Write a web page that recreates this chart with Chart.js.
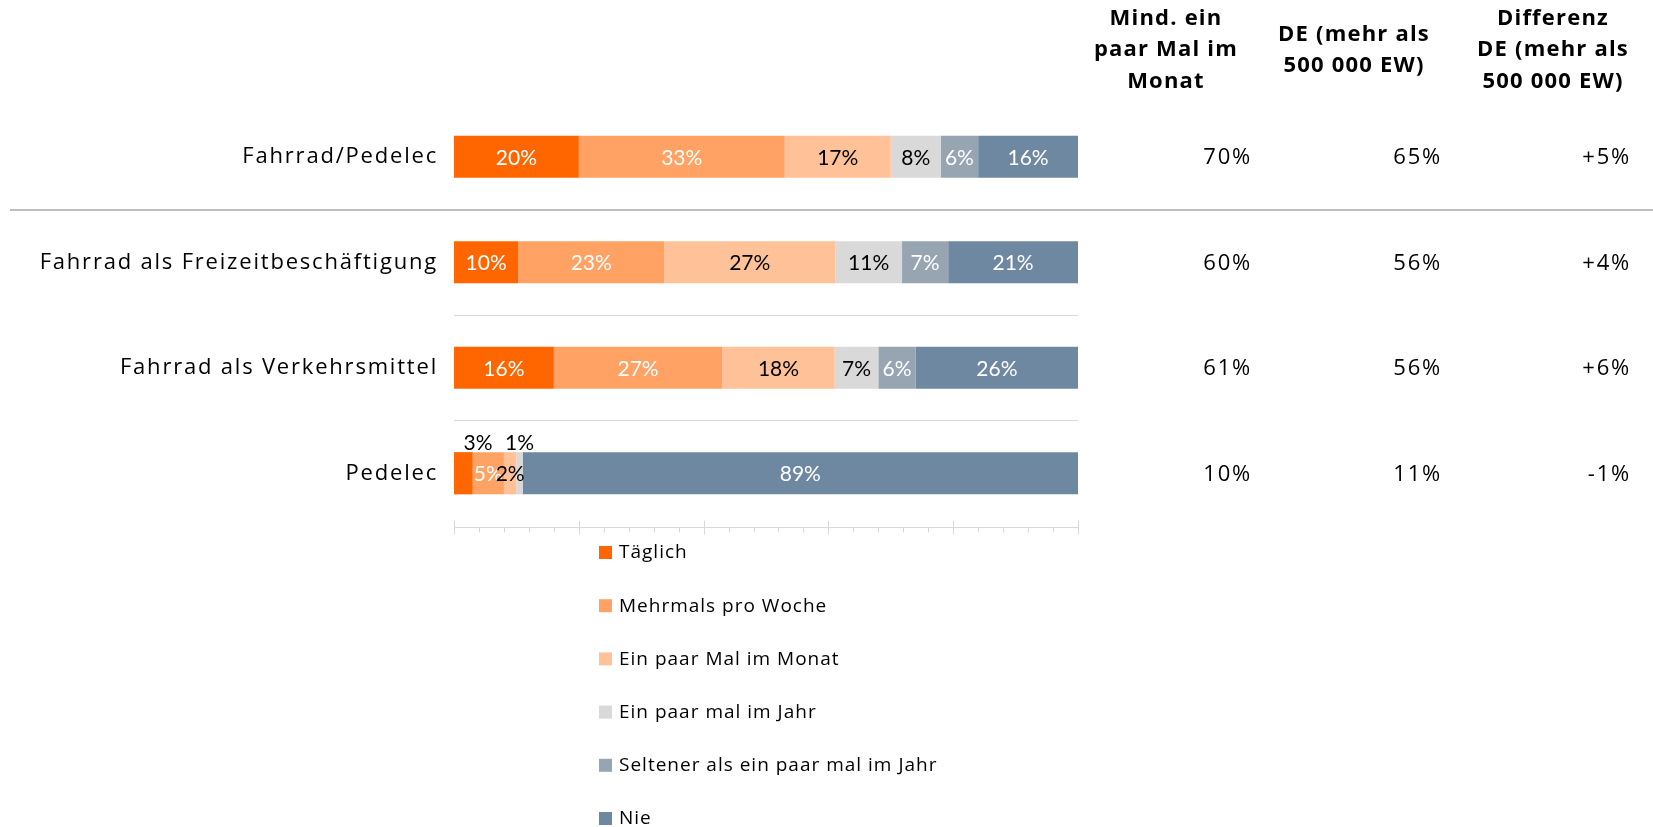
<!DOCTYPE html>
<html>
<head>
<meta charset="utf-8">
<script src="https://cdn.jsdelivr.net/npm/chart.js@4.4.1/dist/chart.umd.min.js"></script>
<style>
    body { margin: 0; background: #ffffff; }
    canvas { display: block; }
</style>
</head>
<body>
<canvas id="grafico-fahrrad" width="1653" height="827"></canvas>
<script>
// Kategorien und Werte (in %)
const kategorien = ['Fahrrad/Pedelec', 'Fahrrad als Freizeitbeschäftigung', 'Fahrrad als Verkehrsmittel', 'Pedelec'];
const serienNamen = ['Täglich', 'Mehrmals pro Woche', 'Ein paar Mal im Monat', 'Ein paar mal im Jahr', 'Seltener als ein paar mal im Jahr', 'Nie'];
const taeglich = [20, 10.3, 16, 3];
const mehrmalsWoche = [33, 23.4, 27, 5];
const paarMalMonat = [17, 27.4, 18, 2];
const paarMalJahr = [8, 10.7, 7, 1];
const seltener = [6, 7.4, 6, 0];
const nie = [16, 20.8, 26, 89];

// Spalten rechts
const kopfMindMonat = ['Mind. ein', 'paar Mal im', 'Monat'];
const kopfDE = ['DE (mehr als', '500 000 EW)'];
const kopfDifferenz = ['Differenz', 'DE (mehr als', '500 000 EW)'];
const mindMonat = ['70%', '60%', '61%', '10%'];
const deWerte = ['65%', '56%', '56%', '11%'];
const differenz = ['+5%', '+4%', '+6%', '-1%'];

const farben = ['#ff6600', '#ffa264', '#ffc198', '#d9d9d9', '#97a5b3', '#6e88a1'];
const labelFarben = ['#ffffff', '#ffffff', '#000000', '#000000', '#ffffff', '#ffffff'];
const werteListe = [taeglich, mehrmalsWoche, paarMalMonat, paarMalJahr, seltener, nie];

// bei Pedelec stehen zwei Labels über dem Balken
const labelsOberhalb = { 3: [0, 3] };

const schrift = "'Open Sans', sans-serif";
Chart.defaults.font.family = schrift;
Chart.defaults.color = '#000000';

const datensaetze = [];
for (let i = 0; i < serienNamen.length; i++) {
    datensaetze.push({
        label: serienNamen[i],
        data: werteListe[i],
        backgroundColor: farben[i],
        borderWidth: 0,
        barPercentage: 0.4,
        categoryPercentage: 1
    });
}

const abstand = {
    id: 'abstand',
    beforeUpdate(chart) { chart.ctx.letterSpacing = '1.8px'; },
    beforeDraw(chart) { chart.ctx.letterSpacing = '1.8px'; }
};

const extras = {
    id: 'extras',
    afterDatasetsDraw(chart) {
        const ctx = chart.ctx;
        ctx.save();
        ctx.letterSpacing = '0px';
        ctx.font = "21px Lato, sans-serif";
        ctx.textAlign = 'center';
        ctx.textBaseline = 'middle';
        chart.data.datasets.forEach((ds, i) => {
            const meta = chart.getDatasetMeta(i);
            meta.data.forEach((bar, j) => {
                const wert = ds.data[j];
                if (wert < 0.5) return;
                const text = Math.round(wert) + '%';
                let x = (bar.x + bar.base) / 2;
                let y = bar.y;
                ctx.fillStyle = labelFarben[i];
                if (labelsOberhalb[j] && labelsOberhalb[j].includes(i)) {
                    y = bar.y - bar.height / 2 - 10;
                    if (i == 0) x = bar.base + 24;
                    ctx.fillStyle = '#000000';
                }
                ctx.fillText(text, x, y + 1);
            });
        });
        ctx.restore();
    },
    afterDraw(chart) {
        const ctx = chart.ctx;
        const xs = chart.scales.x;
        const ys = chart.scales.y;
        const area = chart.chartArea;
        ctx.save();

        // Trennlinie unter Fahrrad/Pedelec
        const yTrenn = Math.round((ys.getPixelForValue(0) + ys.getPixelForValue(1)) / 2);
        ctx.strokeStyle = '#bfbfbf';
        ctx.lineWidth = 2;
        ctx.beginPath();
        ctx.moveTo(10, yTrenn);
        ctx.lineTo(chart.width, yTrenn);
        ctx.stroke();

        // Teilstriche der x-Achse
        ctx.strokeStyle = '#d9d9d9';
        ctx.lineWidth = 1;
        const yAchse = area.bottom + 1.5;
        for (let v = 0; v <= 100; v += 4) {
            const px = Math.round(xs.getPixelForValue(v)) + 0.5;
            ctx.beginPath();
            if (v % 20 == 0) {
                ctx.moveTo(px, yAchse - 7);
                ctx.lineTo(px, yAchse + 7);
            } else {
                ctx.moveTo(px, yAchse);
                ctx.lineTo(px, yAchse + 5);
            }
            ctx.stroke();
        }
        ctx.beginPath();
        ctx.moveTo(area.left, yAchse);
        ctx.lineTo(area.right, yAchse);
        ctx.stroke();

        // Kopfzeilen
        ctx.fillStyle = '#000000';
        ctx.letterSpacing = '1.2px';
        ctx.font = "bold 22px " + schrift;
        ctx.textAlign = 'center';
        ctx.textBaseline = 'middle';
        const koepfe = [[kopfMindMonat, 1166], [kopfDE, 1354], [kopfDifferenz, 1553]];
        koepfe.forEach(k => {
            const zeilen = k[0];
            const start = 50 - (zeilen.length - 1) * 31.5 / 2;
            zeilen.forEach((z, n) => ctx.fillText(z, k[1], start + n * 31.5));
        });

        // Werte rechts
        ctx.font = "22px " + schrift;
        ctx.letterSpacing = '1.8px';
        ctx.textAlign = 'right';
        const spalten = [[mindMonat, 1252], [deWerte, 1442], [differenz, 1631]];
        spalten.forEach(s => {
            s[0].forEach((w, j) => ctx.fillText(w, s[1], ys.getPixelForValue(j) + 1));
        });

        // Legende untereinander
        ctx.font = "19px " + schrift;
        ctx.letterSpacing = '1px';
        ctx.textAlign = 'left';
        chart.data.datasets.forEach((ds, i) => {
            const yl = area.bottom + 26 + i * 53.2;
            ctx.fillStyle = ds.backgroundColor;
            ctx.fillRect(599, yl - 6, 13, 13);
            ctx.fillStyle = '#000000';
            ctx.fillText(ds.label, 619, yl + 1);
        });
        ctx.restore();
    }
};

const ctxGrafico = document.getElementById('grafico-fahrrad').getContext('2d');
const grafico = new Chart(ctxGrafico, {
    type: 'bar',
    data: {
        labels: kategorien,
        datasets: datensaetze
    },
    options: {
        indexAxis: 'y',
        responsive: false,
        animation: false,
        layout: {
            padding: { top: 104, bottom: 301, left: 0, right: 575 }
        },
        scales: {
            x: {
                stacked: true,
                min: 0,
                max: 100,
                grid: { display: false },
                border: { display: false },
                ticks: { display: false },
                afterFit(scale) { scale.height = 0; }
            },
            y: {
                stacked: true,
                grid: {
                    offset: true,
                    drawTicks: false,
                    color: c => (c.index == 2 || c.index == 3) ? '#d9d9d9' : 'rgba(0,0,0,0)',
                    lineWidth: 1
                },
                border: { display: false },
                ticks: {
                    padding: 16,
                    color: '#000000',
                    font: { size: 22 }
                },
                afterFit(scale) { scale.width = 454; }
            }
        },
        plugins: {
            legend: { display: false },
            tooltip: { enabled: false }
        }
    },
    plugins: [abstand, extras]
});
</script>
</body>
</html>
